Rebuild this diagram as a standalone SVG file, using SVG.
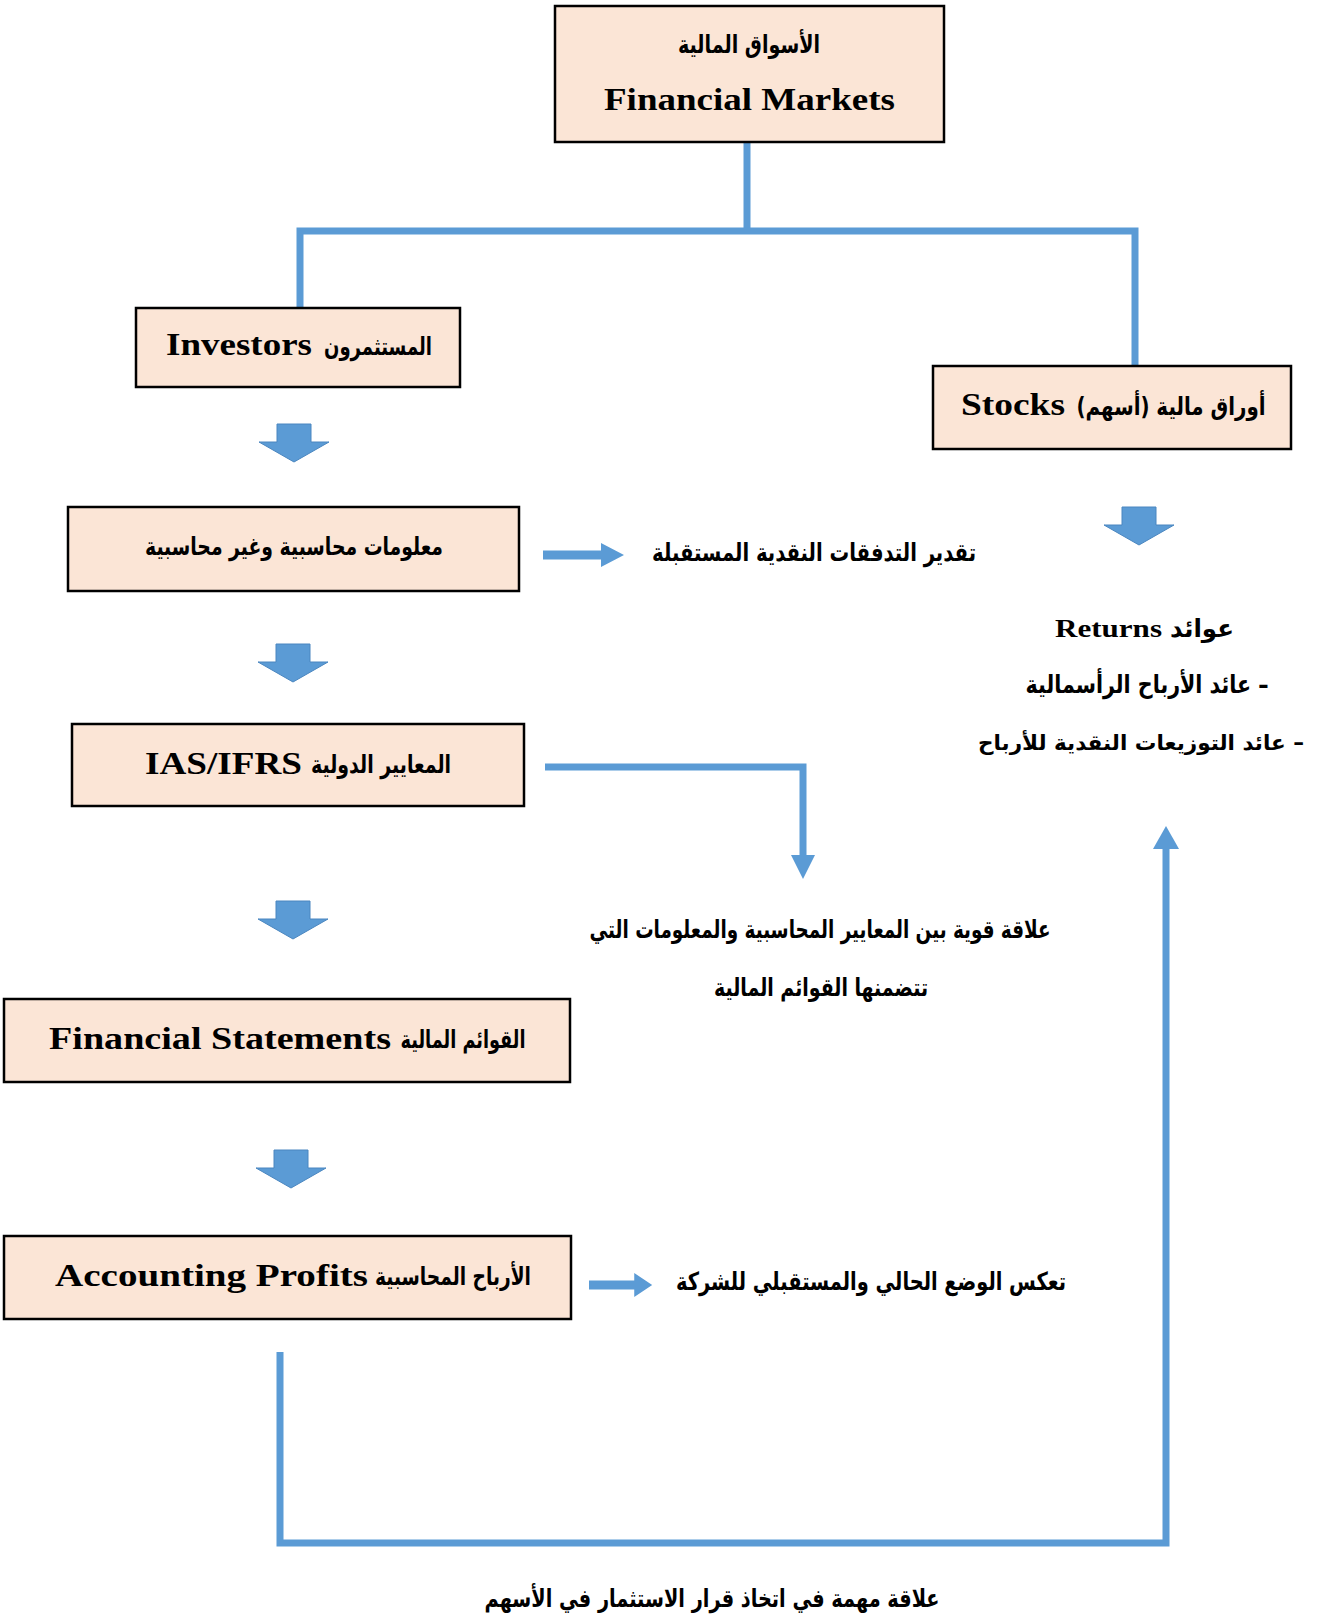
<svg xmlns="http://www.w3.org/2000/svg" xmlns:xlink="http://www.w3.org/1999/xlink" width="1318" height="1623" viewBox="0 0 1318 1623">
  <style>
    .box { fill: #FBE5D6; stroke: #000; stroke-width: 2.5; }
    .en { font-family: "Liberation Serif", "Times New Roman", serif; font-weight: bold; font-size: 32px; fill: #000; }
    .ar { font-family: "DejaVu Sans", sans-serif; font-weight: bold; font-size: 25px; fill: #000; }
    .wire { fill: none; stroke: #5B9BD5; stroke-width: 7; stroke-linecap: butt; stroke-linejoin: miter; }
    .head { fill: #5B9BD5; }
    .block { fill: #5B9BD5; stroke: #4A86C0; stroke-width: 1; }
  </style>
  <defs>
    <!-- block arrow pointing down, origin at top centre of the shaft -->
    <path id="downArrow" d="M-17,0 H17 V18 H35 L0,38 L-35,18 H-17 Z"/>
    <!-- short arrow pointing right, origin at the left end of the shaft -->
    <path id="rightArrow" d="M0,-4.5 H58 V-12 L81,0 L58,12 V4.5 H0 Z"/>
  </defs>

  <rect width="1318" height="1623" fill="#fff"/>

  <!-- connectors -->
  <g id="connectors">
    <!-- tree from the markets box -->
    <polyline class="wire" points="747,142 747,231"/>
    <polyline class="wire" points="300,308 300,231 1135,231 1135,366"/>

    <!-- block arrows down the left column -->
    <use href="#downArrow" class="block" transform="translate(294,424)"/>
    <use href="#downArrow" class="block" transform="translate(293,644)"/>
    <use href="#downArrow" class="block" transform="translate(293,901)"/>
    <use href="#downArrow" class="block" transform="translate(291,1150)"/>
    <!-- stocks to returns -->
    <use href="#downArrow" class="block" transform="translate(1139,507)"/>

    <!-- information to cash-flow estimate -->
    <use href="#rightArrow" class="head" transform="translate(543,555)"/>
    <!-- profits to company position -->
    <use href="#rightArrow" class="head" transform="translate(589,1285) scale(0.78,1)"/>

    <!-- standards to relation note -->
    <polyline class="wire" points="545,767 803,767 803,857"/>
    <polygon class="head" points="791,855 815,855 803,879"/>

    <!-- profits back up to returns -->
    <polyline class="wire" points="280,1352 280,1543 1166,1543 1166,848"/>
    <polygon class="head" points="1153,849 1179,849 1166,826"/>
  </g>

  <!-- nodes -->
  <g id="financial-markets">
    <rect class="box" x="555" y="6" width="389" height="136"/>
    <text class="ar" x="749" y="53" text-anchor="middle" direction="rtl" textLength="142" lengthAdjust="spacingAndGlyphs">الأسواق المالية</text>
    <text class="en" x="604" y="110" textLength="291" lengthAdjust="spacingAndGlyphs">Financial Markets</text>
  </g>

  <g id="investors">
    <rect class="box" x="136" y="308" width="324" height="79"/>
    <text class="en" x="166" y="355" textLength="146" lengthAdjust="spacingAndGlyphs">Investors</text>
    <text class="ar" x="378" y="355" text-anchor="middle" direction="rtl" textLength="108" lengthAdjust="spacingAndGlyphs">المستثمرون</text>
  </g>

  <g id="stocks">
    <rect class="box" x="933" y="366" width="358" height="83"/>
    <text class="en" x="961" y="415" textLength="104" lengthAdjust="spacingAndGlyphs">Stocks</text>
    <text class="ar" x="1171" y="415" text-anchor="middle" direction="rtl" textLength="189" lengthAdjust="spacingAndGlyphs">أوراق مالية (أسهم)</text>
  </g>

  <g id="information">
    <rect class="box" x="68" y="507" width="451" height="84"/>
    <text class="ar" x="294" y="555" text-anchor="middle" direction="rtl" textLength="298" lengthAdjust="spacingAndGlyphs">معلومات محاسبية وغير محاسبية</text>
  </g>

  <g id="cash-flow-estimate">
    <text class="ar" x="814" y="561" text-anchor="middle" direction="rtl" textLength="324" lengthAdjust="spacingAndGlyphs">تقدير التدفقات النقدية المستقبلة</text>
  </g>

  <g id="returns">
    <text class="en" x="1055" y="637" style="font-size:26px" textLength="107" lengthAdjust="spacingAndGlyphs">Returns</text>
    <text class="ar" x="1202" y="637" text-anchor="middle" direction="rtl" textLength="64" lengthAdjust="spacingAndGlyphs">عوائد</text>
    <text class="ar" x="1147" y="693" text-anchor="middle" direction="rtl" textLength="243" lengthAdjust="spacingAndGlyphs">– عائد الأرباح الرأسمالية</text>
    <text class="ar" x="1141" y="750" text-anchor="middle" direction="rtl" textLength="326" lengthAdjust="spacingAndGlyphs" style="font-size:21px">– عائد التوزيعات النقدية للأرباح</text>
  </g>

  <g id="standards">
    <rect class="box" x="72" y="724" width="452" height="82"/>
    <text class="en" x="145" y="774" textLength="157" lengthAdjust="spacingAndGlyphs">IAS/IFRS</text>
    <text class="ar" x="381" y="773" text-anchor="middle" direction="rtl" textLength="140" lengthAdjust="spacingAndGlyphs">المعايير الدولية</text>
  </g>

  <g id="relation-note">
    <text class="ar" x="820" y="938" text-anchor="middle" direction="rtl" textLength="461" lengthAdjust="spacingAndGlyphs">علاقة قوية بين المعايير المحاسبية والمعلومات التي</text>
    <text class="ar" x="821" y="996" text-anchor="middle" direction="rtl" textLength="214" lengthAdjust="spacingAndGlyphs">تتضمنها القوائم المالية</text>
  </g>

  <g id="financial-statements">
    <rect class="box" x="4" y="999" width="566" height="83"/>
    <text class="en" x="49" y="1049" textLength="342" lengthAdjust="spacingAndGlyphs">Financial Statements</text>
    <text class="ar" x="463" y="1048" text-anchor="middle" direction="rtl" textLength="125" lengthAdjust="spacingAndGlyphs">القوائم المالية</text>
  </g>

  <g id="accounting-profits">
    <rect class="box" x="4" y="1236" width="567" height="83"/>
    <text class="en" x="55" y="1286" textLength="313" lengthAdjust="spacingAndGlyphs">Accounting Profits</text>
    <text class="ar" x="453" y="1285" text-anchor="middle" direction="rtl" textLength="156" lengthAdjust="spacingAndGlyphs">الأرباح المحاسبية</text>
  </g>

  <g id="company-position">
    <text class="ar" x="871" y="1290" text-anchor="middle" direction="rtl" textLength="390" lengthAdjust="spacingAndGlyphs">تعكس الوضع الحالي والمستقبلي للشركة</text>
  </g>

  <g id="decision-note">
    <text class="ar" x="712" y="1607" text-anchor="middle" direction="rtl" textLength="455" lengthAdjust="spacingAndGlyphs">علاقة مهمة في اتخاذ قرار الاستثمار في الأسهم</text>
  </g>
</svg>
